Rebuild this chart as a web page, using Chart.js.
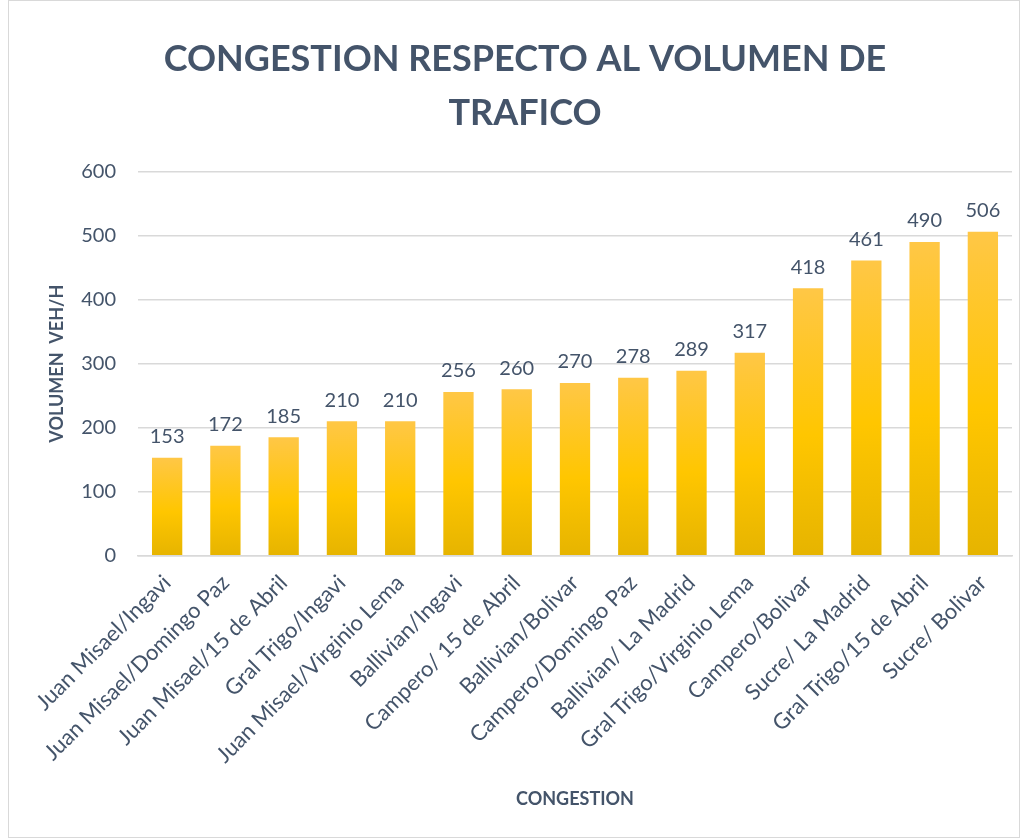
<!DOCTYPE html>
<html>
<head>
<meta charset="utf-8">
<script src="https://cdn.jsdelivr.net/npm/chart.js@4.4.0/dist/chart.umd.min.js"></script>
<style>
  body { margin: 0; background: #fff; }
  #box { position: absolute; left: 8px; top: 0px; width: 1010px; height: 836px; border: 1px solid #d9d9d9; }
</style>
</head>
<body>
<div id="box"><canvas id="myChart" width="1010" height="836"></canvas></div>
<script>
const labels = ['Juan Misael/Ingavi', 'Juan Misael/Domingo Paz', 'Juan Misael/15 de Abril',
  'Gral Trigo/Ingavi', 'Juan Misael/Virginio Lema', 'Ballivian/Ingavi', 'Campero/ 15 de Abril',
  'Ballivian/Bolivar', 'Campero/Domingo Paz', 'Ballivian/ La Madrid', 'Gral Trigo/Virginio Lema',
  'Campero/Bolivar', 'Sucre/ La Madrid', 'Gral Trigo/15 de Abril', 'Sucre/ Bolivar'];
const volumen = [153, 172, 185, 210, 210, 256, 260, 270, 278, 289, 317, 418, 461, 490, 506];

const slate = '#44546a';
const fontName = 'Lato, "Open Sans", sans-serif';

// gradient per bar, from its top to the baseline
function barGradient(ctx) {
    const chart = ctx.chart;
    const y = chart.scales && chart.scales.y;
    if (!chart.chartArea || !y || ctx.raw === undefined) return '#ffc000';
    const top = y.getPixelForValue(ctx.raw);
    const base = y.getPixelForValue(0);
    if (!isFinite(top) || !isFinite(base) || top === base) return '#ffc000';
    const g = chart.ctx.createLinearGradient(0, top, 0, base);
    g.addColorStop(0, '#ffc746');
    g.addColorStop(0.55, '#ffc600');
    g.addColorStop(1, '#e6b400');
    return g;
}

// values above bars
const valueLabels = {
    id: 'valueLabels',
    afterDatasetsDraw(chart) {
        const c = chart.ctx;
        const meta = chart.getDatasetMeta(0);
        c.save();
        c.fillStyle = slate;
        c.font = '20px ' + fontName;
        c.textAlign = 'center';
        c.textBaseline = 'bottom';
        meta.data.forEach((bar, i) => {
            c.fillText(chart.data.datasets[0].data[i], bar.x, bar.y - 11);
        });
        c.restore();
    }
};

const config = {
    type: 'bar',
    data: {
        labels: labels,
        datasets: [{
            label: 'Volumen',
            data: volumen,
            backgroundColor: barGradient,
            barPercentage: 0.52,
            categoryPercentage: 1
        }]
    },
    options: {
        responsive: false,
        animation: false,
        layout: { padding: { left: 29, right: 7, top: 20, bottom: 23 } },
        plugins: {
            legend: { display: false },
            tooltip: { enabled: false },
            title: {
                display: true,
                text: ['CONGESTION RESPECTO AL VOLUMEN DE', 'TRAFICO'],
                color: slate,
                font: { family: fontName, size: 36, weight: 'bold', lineHeight: 1.48 },
                padding: { top: 12, bottom: 32 }
            }
        },
        scales: {
            y: {
                min: 0,
                max: 600,
                afterFit: s => { s.width = 100; },
                ticks: { stepSize: 100, color: slate, font: { family: fontName, size: 20 }, padding: 22 },
                grid: { color: '#d9d9d9', lineWidth: 1.5, drawTicks: false },
                border: { display: false },
                title: {
                    display: true,
                    text: 'VOLUMEN  VEH/H',
                    color: slate,
                    font: { family: fontName, size: 18, weight: 'bold' },
                    padding: { top: 8, bottom: 0 }
                }
            },
            x: {
                ticks: { color: slate, font: { family: fontName, size: 22 }, minRotation: 45, maxRotation: 45, padding: 6 },
                grid: { display: false },
                border: { color: '#d9d9d9', width: 1.5 },
                title: {
                    display: true,
                    text: 'CONGESTION',
                    color: slate,
                    font: { family: fontName, size: 18, weight: 'bold' },
                    padding: { top: 14 }
                }
            }
        }
    },
    plugins: [valueLabels]
};

const myChart = new Chart(document.getElementById('myChart'), config);
</script>
</body>
</html>
